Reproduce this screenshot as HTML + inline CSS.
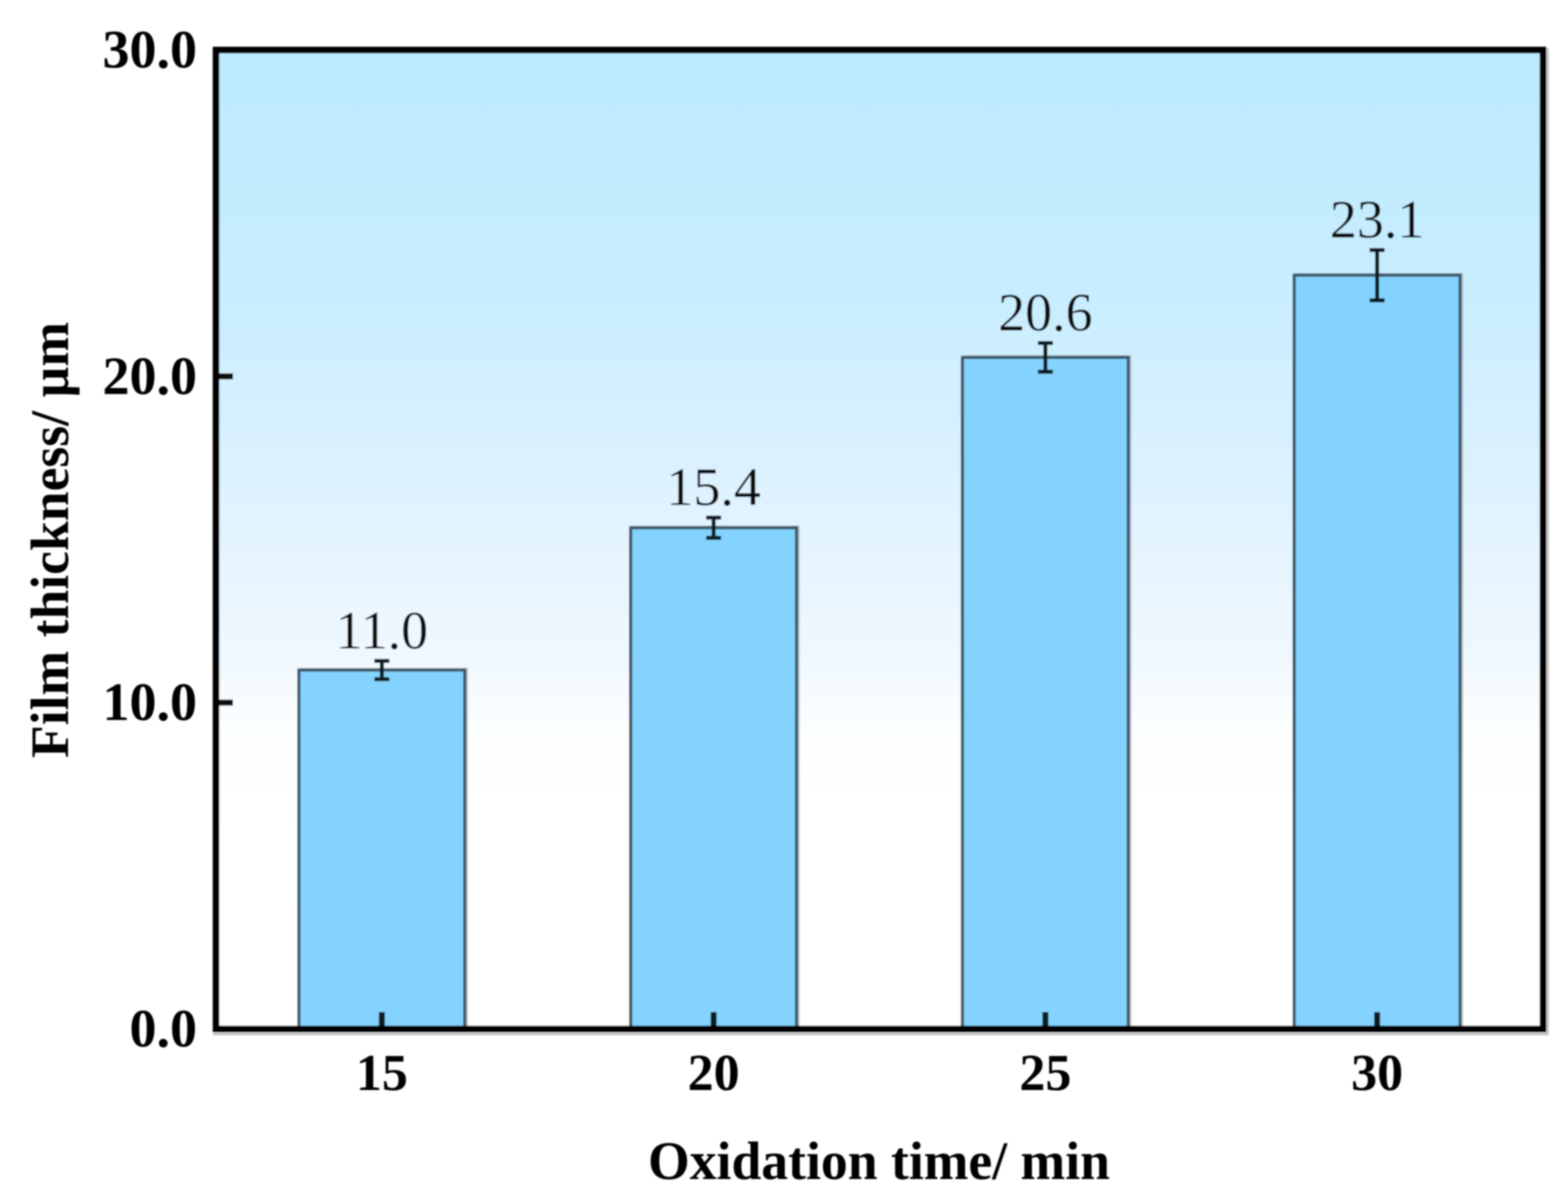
<!DOCTYPE html>
<html lang="en">
<head>
<meta charset="utf-8">
<title>Film thickness vs oxidation time</title>
<style>
html,body{margin:0;padding:0;background:#fff;}
svg{display:block;}
text{font-family:"Liberation Serif",serif;fill:#000;}
</style>
</head>
<body>
<svg id="chart" width="1564" height="1201" viewBox="0 0 1564 1201" xmlns="http://www.w3.org/2000/svg">
<defs>
<linearGradient id="bg" x1="0" y1="0" x2="0" y2="1">
<stop offset="0" stop-color="#bce9ff"/>
<stop offset="0.25" stop-color="#c8edff"/>
<stop offset="0.45" stop-color="#def2ff"/>
<stop offset="0.62" stop-color="#f0f8ff"/>
<stop offset="0.7" stop-color="#fdffff"/>
<stop offset="1" stop-color="#ffffff"/>
</linearGradient>
<filter id="soft" x="-2%" y="-2%" width="104%" height="104%"><feGaussianBlur stdDeviation="0.7"/></filter>
</defs>
<g id="root" filter="url(#soft)"></g>
</svg>
<script>
const categories = ['15', '20', '25', '30'];
const thickness = [11.0, 15.36, 20.58, 23.1];
const printedValues = ['11.0', '15.4', '20.6', '23.1'];
const errors = [0.28, 0.31, 0.44, 0.77];
const yTickValues = [0, 10, 20, 30];

const plotLeft = 216, plotRight = 1543, plotTop = 50, plotBottom = 1029;
const yMax = 30;
const NS = 'http://www.w3.org/2000/svg';
const root = document.getElementById('root');

function yScale(v) { return plotBottom - (v / yMax) * (plotBottom - plotTop); }
function bandWidth() { return (plotRight - plotLeft) / categories.length; }
function xScale(i) { return plotLeft + bandWidth() * (i + 0.5); }

function make(tag, attrs, text) {
  const el = document.createElementNS(NS, tag);
  for (const k in attrs) el.setAttribute(k, attrs[k]);
  if (text !== undefined) el.textContent = text;
  root.appendChild(el);
  return el;
}

let el;
el = make('rect', {x: plotLeft, y: plotTop, width: plotRight - plotLeft, height: plotBottom - plotTop, fill: 'url(#bg)'});



const barW = bandWidth() * 0.5;
categories.forEach(function (c, i) {
  const cx = xScale(i), top = yScale(thickness[i]);
  const ghost = make('rect', {x: cx - barW / 2 + 2, y: top - 1, width: barW, height: plotBottom - top + 1, fill: 'none', stroke: '#9aa8b2', 'stroke-width': 2.5, opacity: 0.55});
  
  
  const bar = make('rect', {x: cx - barW / 2, y: top, width: barW, height: plotBottom - top, fill: '#84d3ff', stroke: '#3f5868', 'stroke-width': 3.2});
  
  

  const hi = yScale(thickness[i] + errors[i]), lo = yScale(thickness[i] - errors[i]);
  const stem = make('line', {x1: cx, x2: cx, y1: hi, y2: lo, stroke: '#0c1a22', 'stroke-width': 4});
  
  
  const capT = make('line', {x1: cx - 7.5, x2: cx + 7.5, y1: hi, y2: hi, stroke: '#0c1a22', 'stroke-width': 4});
  
  
  const capB = make('line', {x1: cx - 7.5, x2: cx + 7.5, y1: lo, y2: lo, stroke: '#0c1a22', 'stroke-width': 4});
  
  

  const val = make('text', {x: cx, y: hi - 12.5, 'text-anchor': 'middle', 'font-size': 54, style: 'fill:#0c0c0c'}, printedValues[i]);
  
  

  const tick = make('line', {x1: cx, x2: cx, y1: plotBottom, y2: plotBottom - 17, stroke: '#0c1a22', 'stroke-width': 6});
  
  

  const lab = make('text', {x: cx, y: 1090, 'text-anchor': 'middle', 'font-size': 52, 'font-weight': 'bold'}, c);
  
  
});

yTickValues.forEach(function (v) {
  const y = yScale(v);
  const tick = make('line', {x1: plotLeft, x2: plotLeft + 17, y1: y, y2: y, stroke: '#111', 'stroke-width': 6});
  
  
  const lab = make('text', {x: 197, y: y + 17.5, 'text-anchor': 'end', 'font-size': 54, 'font-weight': 'bold'}, v.toFixed(1));
  
  
});

el = make('path', {d: 'M' + (plotRight + 4.5) + ' ' + (plotTop - 2) + 'V' + (plotBottom + 5) + 'H' + (plotLeft - 3), fill: 'none', stroke: '#c4c4c4', 'stroke-width': 2.5});


el = make('rect', {x: plotLeft, y: plotTop, width: plotRight - plotLeft, height: plotBottom - plotTop, fill: 'none', stroke: '#000', 'stroke-width': 6.5});



el = make('text', {x: 648, y: 1179, 'font-size': 54, 'font-weight': 'bold', textLength: 462, lengthAdjust: 'spacingAndGlyphs'}, 'Oxidation time/ min');



el = make('text', {x: 0, y: 0, transform: 'translate(68,758) rotate(-90)', 'font-size': 54, 'font-weight': 'bold', textLength: 436, lengthAdjust: 'spacingAndGlyphs'}, 'Film thickness/ \u00b5m');


</script>
</body>
</html>
